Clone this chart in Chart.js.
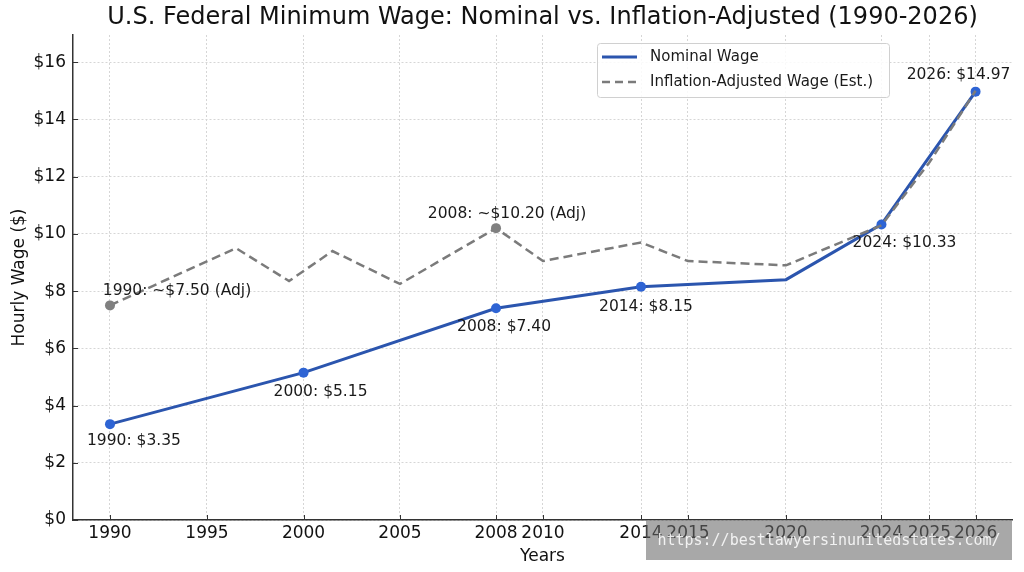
<!DOCTYPE html>
<html>
<head>
<meta charset="utf-8">
<script src="https://cdn.jsdelivr.net/npm/chart.js@4.4.1/dist/chart.umd.min.js"></script>
<style>
    html, body { margin: 0; padding: 0; background: #fff; }
    #wrap { position: relative; width: 1024px; height: 572px; }
    #watermark {
        position: absolute; left: 646px; top: 521px; width: 366px; height: 39px;
        background: rgba(105, 105, 105, 0.58); color: rgba(255, 255, 255, 0.85);
        font: 15px "DejaVu Sans Mono", monospace; line-height: 39px; text-align: center;
    }
</style>
</head>
<body>
<div id="wrap">
    <canvas id="graph" width="1024" height="572"></canvas>
    <div id="watermark">https://bestlawyersinunitedstates.com/</div>
</div>
<script>
const nominalYears = [1990, 2000, 2008, 2014, 2020, 2024, 2026]
const nominalWage = [3.35, 5.15, 7.40, 8.15, 8.40, 10.33, 14.97]
const nominalLabelled = [1990, 2000, 2008, 2014, 2024, 2026]

const adjustedYears = [1990, 1996.5, 1999.25, 2001.5, 2005, 2008, 2010, 2014, 2015, 2020, 2024, 2025, 2026]
const adjustedWage = [7.50, 9.50, 8.35, 9.40, 8.25, 10.20, 9.05, 9.70, 9.05, 8.90, 10.30, 12.50, 15.00]
const adjustedLabelled = [1990, 2008]

const yearTicks = [1990, 1995, 2000, 2005, 2008, 2010, 2014, 2015, 2020, 2024, 2025, 2026]
const wageTicks = [0, 2, 4, 6, 8, 10, 12, 14, 16]

// the year axis of the original is not evenly spaced: anchor years -> share of plot width
const warpYears = [1988, 1990, 1995, 2000, 2005, 2008, 2010, 2014, 2015, 2020, 2024, 2025, 2026, 2027]
const warpShare = [0, .0394, .1427, .2455, .3482, .4505, .5005, .6049, .6549, .7593, .8610, .9121, .9612, 1]

// label offsets (px) from each marked point
const nominalOffsets = [[24, 17], [17, 19], [8, 19], [5, 20], [23, 19], [-17, -17]]
const adjustedOffsets = [[67, -14], [11, -14]]

function interp(v, xs, ys) {
    if (v <= xs[0]) return ys[0] + (v - xs[0]) * (ys[1] - ys[0]) / (xs[1] - xs[0])
    for (let i = 1; i < xs.length; i++) {
        if (v <= xs[i]) return ys[i - 1] + (v - xs[i - 1]) * (ys[i] - ys[i - 1]) / (xs[i] - xs[i - 1])
    }
    const n = xs.length - 1
    return ys[n] + (v - xs[n]) * (ys[n] - ys[n - 1]) / (xs[n] - xs[n - 1])
}

class WarpedYearScale extends Chart.LinearScale {
    getPixelForValue(value) {
        if (value === null || value === undefined) return NaN
        return this.getPixelForDecimal(interp(value, warpYears, warpShare))
    }
    getValueForPixel(pixel) {
        return interp(this.getDecimalForPixel(pixel), warpShare, warpYears)
    }
}
WarpedYearScale.id = 'warpedYear'
WarpedYearScale.defaults = {}
Chart.register(WarpedYearScale)

const FONT = 'DejaVu Sans'
const nominalColor = '#2b55ae'
const adjustedColor = '#7b7b7b'

const extras = {
    id: 'extras',
    afterDraw(chart) {
        const ctx = chart.ctx
        const area = chart.chartArea
        const xs = chart.scales.x, ys = chart.scales.y
        ctx.save()
        // inward tick marks
        ctx.strokeStyle = '#333'
        ctx.lineWidth = 1
        ctx.beginPath()
        yearTicks.forEach(v => {
            const px = Math.round(xs.getPixelForValue(v)) + 0.5
            ctx.moveTo(px, area.bottom)
            ctx.lineTo(px, area.bottom - 5)
        })
        wageTicks.forEach(v => {
            const py = Math.round(ys.getPixelForValue(v)) + 0.5
            ctx.moveTo(area.left, py)
            ctx.lineTo(area.left + 5, py)
        })
        ctx.stroke()

        // point labels
        ctx.fillStyle = '#1a1a1a'
        ctx.font = '15.5px "' + FONT + '"'
        ctx.textAlign = 'center'
        ctx.textBaseline = 'middle'
        const put = (dsIndex, years, values, labelled, offsets, fmt) => {
            const meta = chart.getDatasetMeta(dsIndex)
            labelled.forEach((yr, k) => {
                const i = years.indexOf(yr)
                const p = meta.data[i]
                ctx.fillText(fmt(yr, values[i]), p.x + offsets[k][0], p.y + offsets[k][1])
            })
        }
        put(0, adjustedYears, adjustedWage, adjustedLabelled, adjustedOffsets, (y, v) => y + ': ~$' + v.toFixed(2) + ' (Adj)')
        put(1, nominalYears, nominalWage, nominalLabelled, nominalOffsets, (y, v) => y + ': $' + v.toFixed(2))

        // title over the plot area
        ctx.fillStyle = '#111'
        ctx.font = '24px "' + FONT + '"'
        ctx.fillText('U.S. Federal Minimum Wage: Nominal vs. Inflation-Adjusted (1990-2026)', (area.left + area.right) / 2, 18)

        // legend box
        const lx = 597, ly = 43, lw = 292, lh = 54
        ctx.fillStyle = 'rgba(255,255,255,0.85)'
        ctx.strokeStyle = '#d0d0d0'
        ctx.lineWidth = 1
        ctx.beginPath()
        ctx.roundRect(lx + 0.5, ly + 0.5, lw, lh, 3)
        ctx.fill()
        ctx.stroke()
        const items = [
            { text: 'Nominal Wage', color: nominalColor, dash: [], width: 3 },
            { text: 'Inflation-Adjusted Wage (Est.)', color: adjustedColor, dash: [8, 5], width: 2.5 }
        ]
        ctx.textAlign = 'left'
        ctx.font = '15px "' + FONT + '"'
        items.forEach((it, k) => {
            const cy = ly + 14 + k * 25
            ctx.strokeStyle = it.color
            ctx.lineWidth = it.width
            ctx.setLineDash(it.dash)
            ctx.beginPath()
            ctx.moveTo(lx + 5, cy)
            ctx.lineTo(lx + 40, cy)
            ctx.stroke()
            ctx.setLineDash([])
            ctx.fillStyle = '#1a1a1a'
            ctx.fillText(it.text, lx + 53, cy)
        })
        ctx.restore()
    }
}

const radii = (years, labelled) => years.map(y => labelled.includes(y) ? 5 : 0)

let ctx = document.getElementById('graph').getContext('2d')
new Chart(ctx, {
    type: 'line',
    data: {
        datasets: [{
            label: 'Inflation-Adjusted Wage (Est.)',
            data: adjustedYears.map((x, i) => ({ x, y: adjustedWage[i] })),
            borderColor: adjustedColor,
            borderWidth: 2.5,
            borderDash: [9, 5],
            pointRadius: radii(adjustedYears, adjustedLabelled),
            pointBackgroundColor: '#808080',
            pointBorderWidth: 0,
            tension: 0
        }, {
            label: 'Nominal Wage',
            data: nominalYears.map((x, i) => ({ x, y: nominalWage[i] })),
            borderColor: nominalColor,
            borderWidth: 3,
            pointRadius: radii(nominalYears, nominalLabelled),
            pointBackgroundColor: '#2e64d4',
            pointBorderWidth: 0,
            tension: 0
        }]
    },
    options: {
        responsive: false,
        animation: false,
        layout: { padding: { top: 35, right: 12, left: 0, bottom: 0 } },
        plugins: {
            legend: { display: false },
            title: { display: false },
            tooltip: { enabled: false }
        },
        scales: {
            x: {
                type: 'warpedYear',
                min: 1988,
                max: 2027,
                afterBuildTicks: s => { s.ticks = yearTicks.map(v => ({ value: v })) },
                afterFit: s => { s.height = 52 },
                ticks: {
                    autoSkip: false,
                    maxRotation: 0,
                    padding: 3,
                    color: '#111',
                    font: { family: FONT, size: 17 },
                    callback: v => String(v)
                },
                grid: { color: '#d6d6d6', lineWidth: 1, drawTicks: false },
                border: { color: '#333', width: 1.5, dash: [2, 2] },
                title: {
                    display: true, text: 'Years', color: '#111',
                    font: { family: FONT, size: 17 }, padding: { top: 0, bottom: 5 }
                }
            },
            y: {
                min: 0,
                max: 16.95,
                afterBuildTicks: s => { s.ticks = wageTicks.map(v => ({ value: v })) },
                afterFit: s => { s.width = 73 },
                ticks: {
                    padding: 7,
                    color: '#111',
                    font: { family: FONT, size: 17 },
                    callback: v => '$' + v
                },
                grid: { color: '#d6d6d6', lineWidth: 1, drawTicks: false },
                border: { color: '#333', width: 1.5, dash: [2, 2] },
                title: {
                    display: true, text: 'Hourly Wage ($)', color: '#111',
                    font: { family: FONT, size: 17 }, padding: { top: 9, bottom: 0 }
                }
            }
        }
    },
    plugins: [extras]
})
</script>
</body>
</html>
